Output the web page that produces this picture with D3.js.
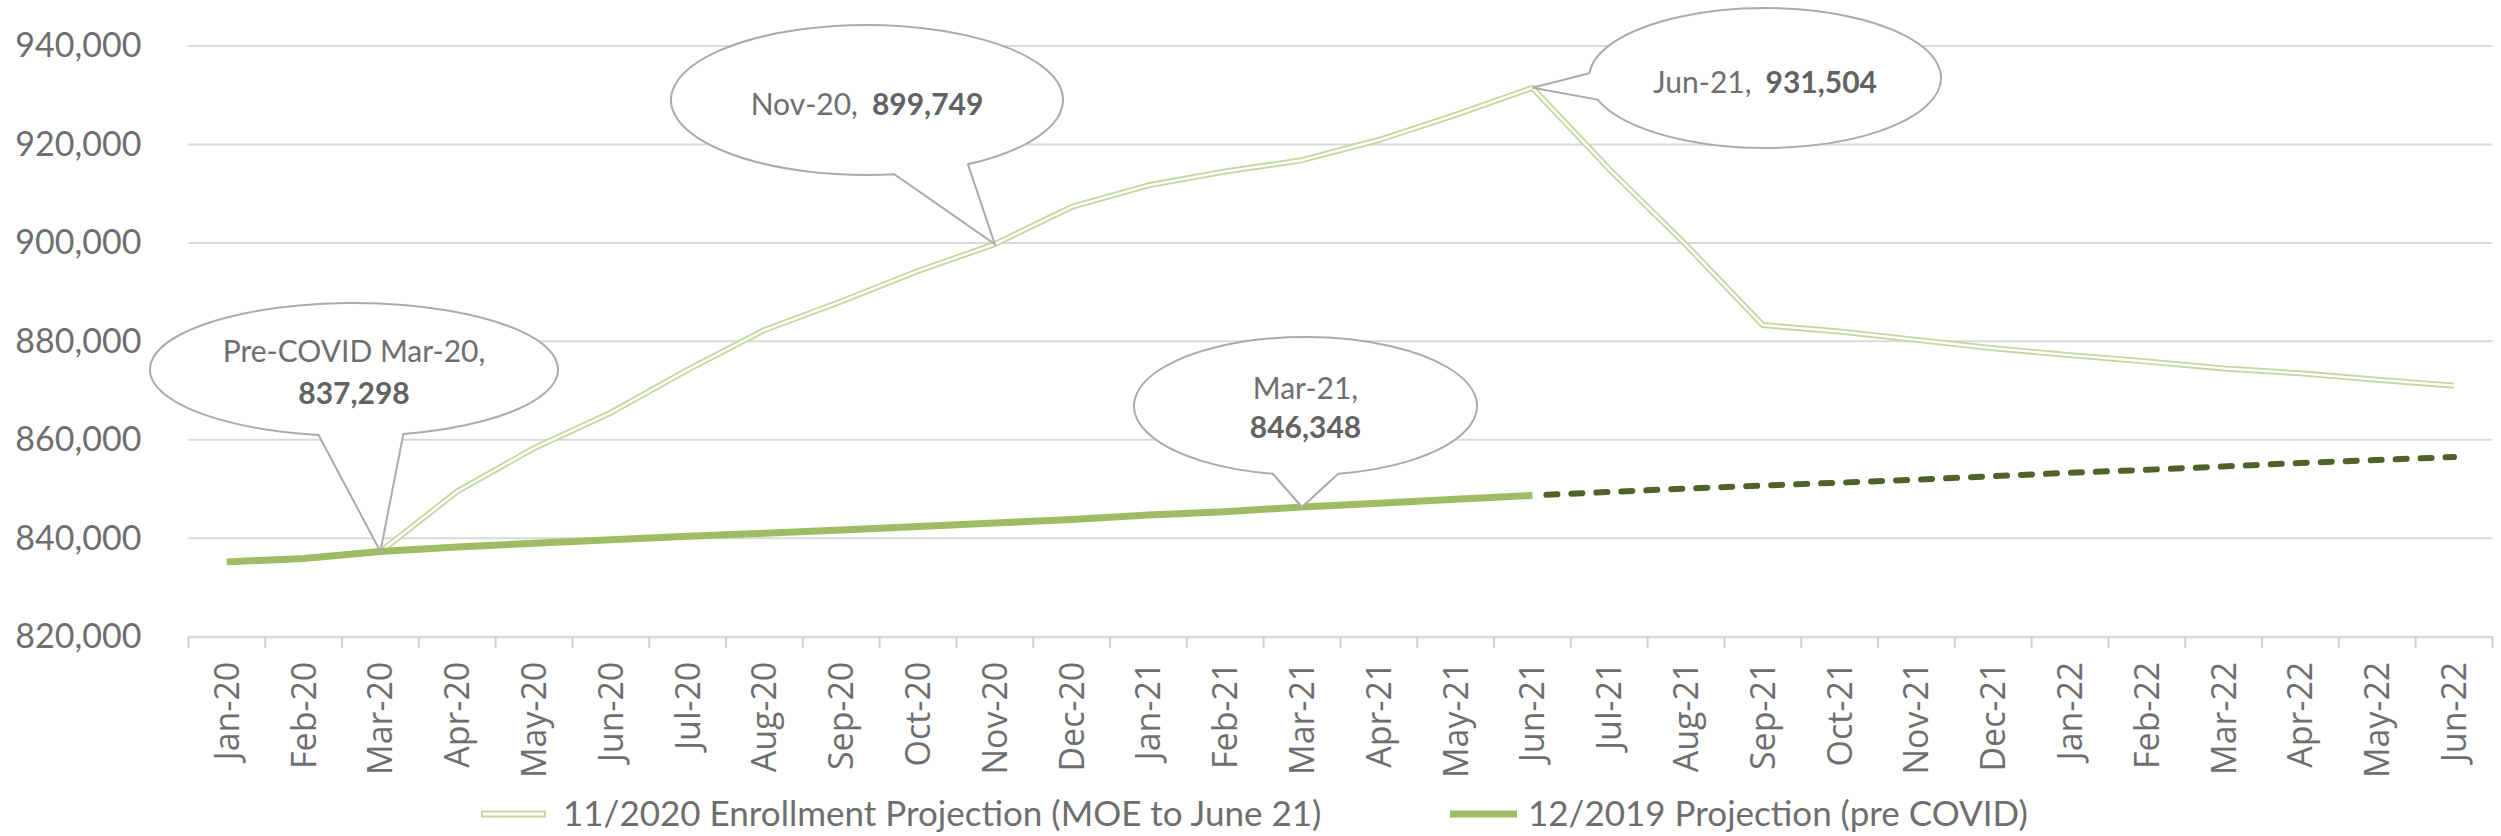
<!DOCTYPE html>
<html>
<head>
<meta charset="utf-8">
<script src="https://cdn.jsdelivr.net/npm/d3@7"></script>
<style>
  html, body { margin: 0; padding: 0; background: #ffffff; }
  svg { display: block; }
</style>
</head>
<body>
<script>
// ---------------- DATA ----------------
const months = ["Jan-20","Feb-20","Mar-20","Apr-20","May-20","Jun-20","Jul-20","Aug-20","Sep-20","Oct-20","Nov-20","Dec-20",
                "Jan-21","Feb-21","Mar-21","Apr-21","May-21","Jun-21","Jul-21","Aug-21","Sep-21","Oct-21","Nov-21","Dec-21",
                "Jan-22","Feb-22","Mar-22","Apr-22","May-22","Jun-22"];
// 11/2020 Enrollment Projection (MOE to June 21)
const projection2020 = [835200, 835900, 837298, 849500, 858300, 865500, 874200, 882300, 888100, 894300, 899749, 907300,
                        911700, 914500, 916800, 920900, 926000, 931504, 915000, 899600, 883300, 882000, 880300, 878600,
                        877200, 875900, 874500, 873500, 872200, 871000];
// 12/2019 Projection (pre COVID)
const projection2019 = [835200, 835900, 837298, 838200, 839000, 839700, 840400, 841000, 841700, 842400, 843100, 843800,
                        844700, 845400, 846348, 847100, 847900, 848700, 849400, 850100, 850700, 851300, 851900, 852600,
                        853300, 853900, 854600, 855300, 855900, 856500];
const solidEndMonth = "Jun-21";
const yTicks = [820000, 840000, 860000, 880000, 900000, 920000, 940000];
const seriesNames = ["11/2020 Enrollment Projection (MOE to June 21)", "12/2019 Projection (pre COVID)"];
const calloutMonths = ["Mar-20", "Nov-20", "Jun-21", "Mar-21"];
const calloutSeries = ["2019", "2020", "2020", "2019"];
const calloutPrefix = ["Pre-COVID Mar-20,", "Nov-20,", "Jun-21,", "Mar-21,"];

// ---------------- LAYOUT ----------------
const W = 2501, H = 836;
const plotLeft = 188.4, plotRight = 2492.4, plotTop = 46, plotBottom = 636.7;
const textColor = "#6e6e6e";
const calibriLike = "Lato, 'Open Sans', sans-serif";
const axisFont = "'Open Sans', Lato, sans-serif";

const svg = d3.select("body").append("svg").attr("width", W).attr("height", H);

const x = d3.scaleBand().domain(months).range([plotLeft, plotRight]).padding(0);
const xc = m => x(m) + x.bandwidth() / 2;
const y = d3.scaleLinear().domain([820000, 940000]).range([plotBottom, plotTop]);

// gridlines
svg.append("g").selectAll("line").data(yTicks).join("line")
  .attr("x1", plotLeft).attr("x2", plotRight)
  .attr("y1", d => y(d)).attr("y2", d => y(d))
  .attr("stroke", "#d9d9d9").attr("stroke-width", 2);

// y axis labels
const yAxis = d3.axisLeft(y).tickValues(yTicks).tickFormat(d3.format(",")).tickSize(0).tickPadding(47);
const gy = svg.append("g").attr("transform", `translate(${plotLeft},0)`).call(yAxis);
gy.select(".domain").remove();
gy.selectAll("text").attr("font-family", calibriLike).attr("font-size", 34).attr("fill", textColor);

// x axis
const xAxis = d3.axisBottom(x).tickSize(0).tickPadding(0);
const gx = svg.append("g").attr("transform", `translate(0,${plotBottom})`).call(xAxis);
gx.select(".domain").attr("stroke", "#d9d9d9").attr("stroke-width", 2);
gx.selectAll(".tick line").remove();
gx.selectAll(".tick text")
  .attr("font-family", axisFont).attr("font-size", 34).attr("fill", textColor)
  .attr("text-anchor", "end")
  .attr("transform", "translate(0,25) rotate(-90)")
  .attr("x", 0).attr("y", 0).attr("dy", "0.35em");
// boundary tick marks
const boundaries = months.map(m => x(m)).concat([plotRight]);
svg.append("g").selectAll("line").data(boundaries).join("line")
  .attr("x1", d => d).attr("x2", d => d)
  .attr("y1", plotBottom).attr("y2", plotBottom + 11)
  .attr("stroke", "#d0d0d0").attr("stroke-width", 2);

// lines
const line = d3.line().x(d => xc(d.m)).y(d => y(d.v));
const d2020 = months.map((m, i) => ({ m, v: projection2020[i] }));
const d2019 = months.map((m, i) => ({ m, v: projection2019[i] }));
const solidIdx = months.indexOf(solidEndMonth);

const outerCol = "#c5d79f", solidCol = "#9ebc63", dashCol = "#4f6228";
// double line (series 1)
svg.append("path").datum(d2020).attr("d", line).attr("fill", "none")
  .attr("stroke", outerCol).attr("stroke-width", 6).attr("stroke-linejoin", "round");
svg.append("path").datum(d2020).attr("d", line).attr("fill", "none")
  .attr("stroke", "#ffffff").attr("stroke-width", 2.4).attr("stroke-linejoin", "round");
// series 2 solid + dashed
svg.append("path").datum(d2019.slice(0, solidIdx + 1)).attr("d", line).attr("fill", "none")
  .attr("stroke", solidCol).attr("stroke-width", 7).attr("stroke-linejoin", "round");
svg.append("path").datum(d2019.slice(solidIdx)).attr("d", line).attr("fill", "none")
  .attr("stroke", dashCol).attr("stroke-width", 6).attr("stroke-linecap", "round")
  .attr("stroke-dasharray", "11,14").attr("stroke-dashoffset", -14);

// callouts
const calloutLayout = [
  { cx: 354, cy: 369.5, rx: 204, ry: 66.5, a1: 76, a2: 100, lines: [[351.7, "p"], [393.3, "v"]] },
  { cx: 867, cy: 100, rx: 196, ry: 75, a1: 59, a2: 82, lines: [[104, "pv"]] },
  { cx: 1765, cy: 78, rx: 176, ry: 70, a1: 162, a2: 184, lines: [[82, "pv"]] },
  { cx: 1305.5, cy: 406, rx: 171.5, ry: 69, a1: 79, a2: 101, lines: [[388, "p"], [427, "v"]] }
];
const fmt = d3.format(",");
calloutMonths.forEach((m, i) => {
  const L = calloutLayout[i];
  const val = (calloutSeries[i] === "2019" ? projection2019 : projection2020)[months.indexOf(m)];
  const tipX = xc(m), tipY = y(val);
  const rad = a => a * Math.PI / 180;
  const p = a => [L.cx + L.rx * Math.cos(rad(a)), L.cy + L.ry * Math.sin(rad(a))];
  const [bx, by] = p(L.a2), [ax, ay] = p(L.a1);
  const path = `M${bx},${by} A${L.rx},${L.ry} 0 1 1 ${ax},${ay} L${tipX},${tipY} Z`;
  svg.append("path").attr("d", path).attr("fill", "#ffffff")
    .attr("stroke", "#ababab").attr("stroke-width", 2).attr("stroke-linejoin", "miter");
  L.lines.forEach(([ty, kind]) => {
    const t = svg.append("text").attr("x", L.cx).attr("y", ty).attr("dy", "0.35em")
      .attr("text-anchor", "middle").attr("font-family", calibriLike).attr("font-size", 30)
      .attr("fill", textColor);
    if (kind.includes("p")) t.append("tspan").text(calloutPrefix[i]);
    if (kind.includes("v")) t.append("tspan").attr("font-weight", "bold").attr("fill", "#626262")
      .attr("dx", kind === "pv" ? 14 : 0).text(fmt(val));
  });
});

// legend
const legendY = 814;
const lg = svg.append("g");
lg.append("line").attr("x1", 481).attr("x2", 546).attr("y1", legendY).attr("y2", legendY)
  .attr("stroke", outerCol).attr("stroke-width", 7);
lg.append("line").attr("x1", 483).attr("x2", 544).attr("y1", legendY).attr("y2", legendY)
  .attr("stroke", "#ffffff").attr("stroke-width", 3);
lg.append("text").attr("x", 563).attr("y", legendY).attr("dy", "0.33em")
  .attr("font-family", calibriLike).attr("font-size", 35).attr("fill", textColor).text(seriesNames[0]);
lg.append("line").attr("x1", 1450).attr("x2", 1517).attr("y1", legendY).attr("y2", legendY)
  .attr("stroke", solidCol).attr("stroke-width", 7);
lg.append("text").attr("x", 1528).attr("y", legendY).attr("dy", "0.33em")
  .attr("font-family", calibriLike).attr("font-size", 35).attr("fill", textColor).text(seriesNames[1]);
</script>
</body>
</html>
